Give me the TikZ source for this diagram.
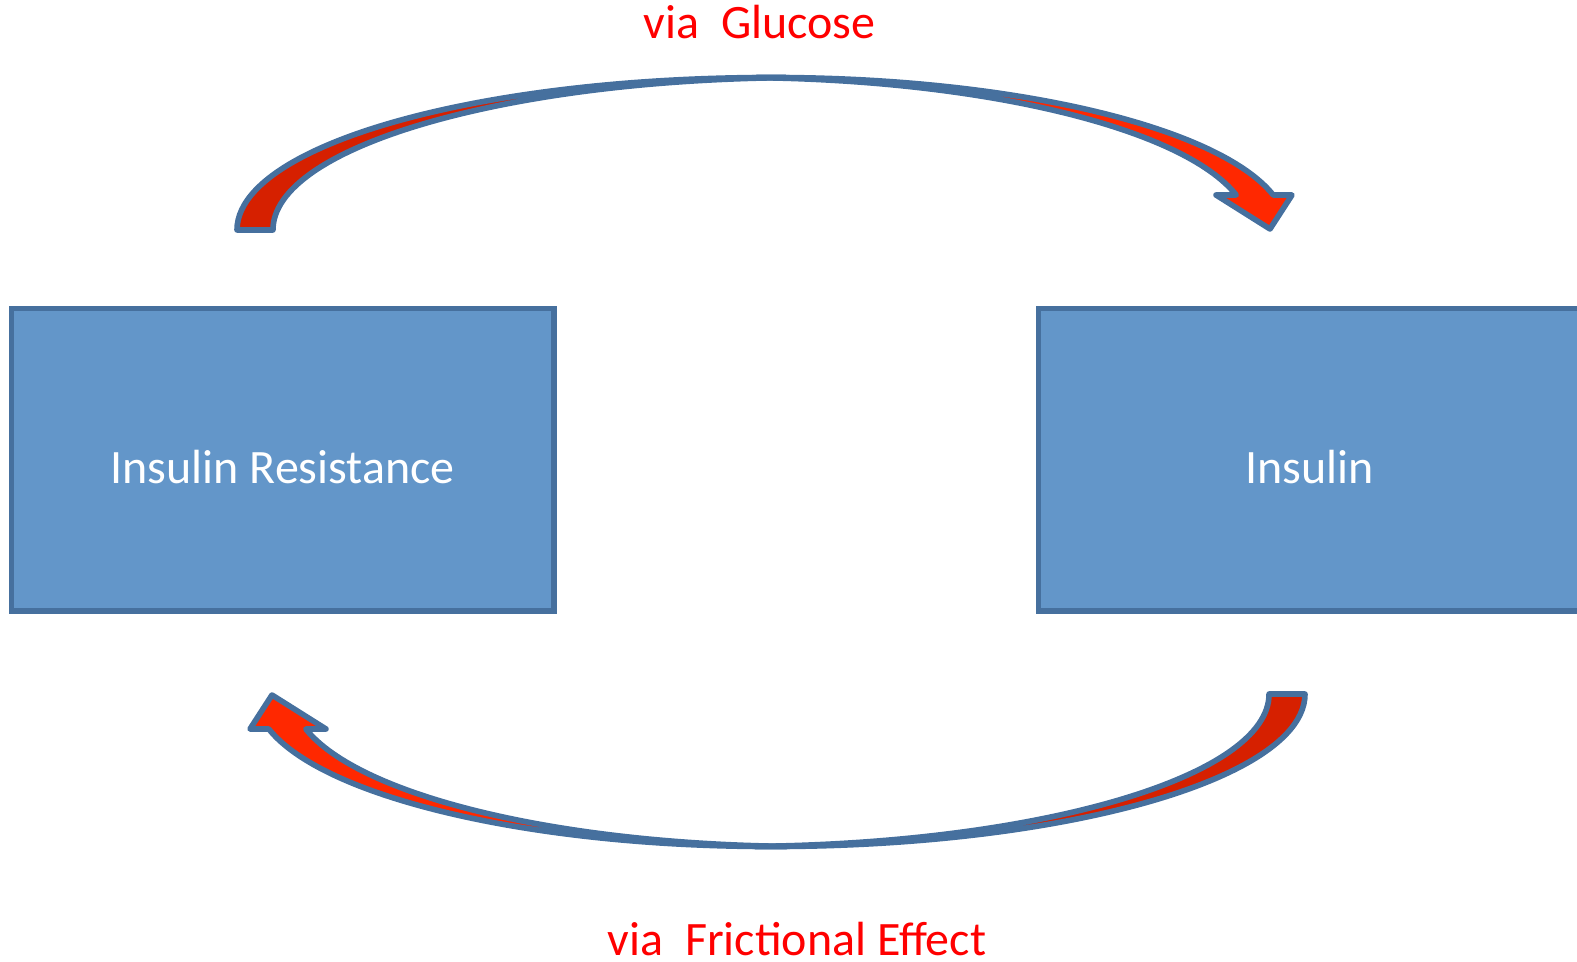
\documentclass[tikz,border=0pt]{standalone}
\usepackage{fontspec}
\setmainfont{Carlito}
\usepackage{xcolor}
\usepackage{tikz}

\definecolor{edgeblue}{RGB}{70,112,158}
\definecolor{boxblue}{RGB}{99,150,201}
\definecolor{backred}{RGB}{214,32,0}
\definecolor{frontred}{RGB}{255,40,0}

\begin{document}
\begin{tikzpicture}[
every node/.style={align=center, font=\fontsize{13.65}{16}\selectfont},
boxstyle/.style={draw=edgeblue, fill=boxblue, line width=1.6pt, minimum width=5.425cm, minimum height=3.025cm, inner sep=0pt, text=white, text height=0.47cm, text depth=0pt},
via/.style={text=red, anchor=base, inner sep=0pt},
backface/.style={draw=edgeblue, fill=backred, line width=1.6pt, line join=round},
frontface/.style={draw=edgeblue, fill=frontred, line width=1.6pt, line join=round}
]
\useasboundingbox (-7.71,-4.99) rectangle (8.06,4.62);
% the two boxes
\node[boxstyle] (resist) at (-4.8825,0.0225) {Insulin Resistance};
\node[boxstyle] (insulin) at (5.3875,0.0225) {Insulin};
% curved ribbon arrows, the lower one is the upper one turned round
\foreach \turn in {0,180}{
\begin{scope}[rotate=\turn]
\draw[backface] (-5.34,2.32) arc[start angle=180, end angle=88.07, x radius=5.34, y radius=1.525]
  arc[start angle=91.93, end angle=180, x radius=5.34, y radius=1.525] -- cycle;
\draw[frontface] (0,2.32) ++(92.05:5.16 and 1.525) arc[start angle=92.05, end angle=13.27, x radius=5.16, y radius=1.525]
  -- (5.21,2.67) -- (4.99,2.33) -- (4.45,2.67) -- (4.652,2.67)
  arc[start angle=13.27, end angle=87.95, x radius=5.16, y radius=1.525] -- cycle;
\end{scope}
}
% labels
\node[via] (glucose) at (-0.115,4.23) {via\ \ Glucose};
\node[via] (friction) at (0.26,-4.93) {via\ \ Frictional Effect};
\end{tikzpicture}
\end{document}
